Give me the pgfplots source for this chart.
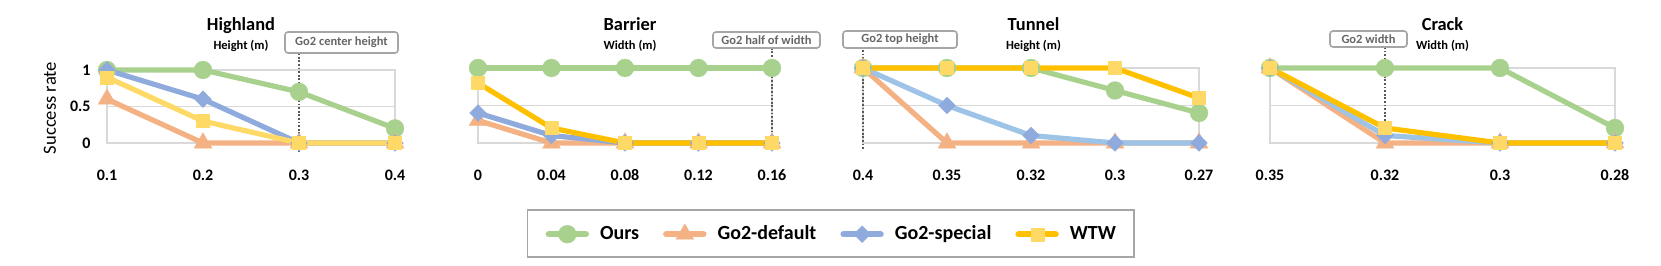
\documentclass[border=0pt]{standalone}
\usepackage{fontspec}
\setmainfont{Carlito}
\usepackage{pgfplots}
\pgfplotsset{compat=1.18}
\definecolor{cg}{HTML}{A9D18E}
\definecolor{co}{HTML}{F4B183}
\definecolor{cb}{HTML}{8FAADC}
\definecolor{clb}{HTML}{9DC3E6}
\definecolor{cy}{HTML}{FFD966}
\definecolor{cgold}{HTML}{FFC000}
\definecolor{gridc}{HTML}{D9D9D9}
\definecolor{nbord}{HTML}{A6A6A6}
\definecolor{ntext}{HTML}{666666}
\definecolor{dotc}{HTML}{595959}
\pgfplotsset{
  base/.style={
    scale only axis, clip=false,
    ymin=0, ymax=1, height=37.5pt,
    axis line style={draw=gridc, line width=0.6pt},
    ytick={0,0.5,1}, yticklabels={},
    ymajorgrids, grid style={draw=gridc, line width=0.6pt},
    major tick length=0pt,
    xticklabel style={font=\fontsize{8}{9}\selectfont\bfseries, anchor=base, yshift=-19pt},
    yticklabel style={font=\fontsize{8}{9}\selectfont\bfseries, anchor=east, inner sep=0pt, xshift=-8pt},
    every axis plot/.append style={line width=2.6pt, line join=round, line cap=round},
  },
  ours/.style={color=cg, mark=*, mark size=4.5pt, mark options={line width=0.1pt}},
  gdef/.style={color=co, mark=triangle*, mark size=5.2pt, mark options={line width=0.1pt}},
  gspec/.style={color=#1, mark=square*, mark size=3pt, mark options={rotate=45, line width=0.1pt, color=cb}},
  gspec/.default=cb,
  wtw/.style={color=#1, mark=square*, mark size=3.25pt, mark options={line width=0.1pt, color=cy}},
  wtw/.default=cgold,
}
\tikzset{
  note/.style={draw=nbord, fill=white, rounded corners=1.5pt, line width=0.8pt, inner sep=0pt,
    text=ntext, font=\fontsize{6.25}{7}\selectfont\bfseries},
  vline/.style={draw=dotc, line width=0.9pt, dash pattern=on 0.9pt off 0.9pt},
  ttl/.style={font=\fontsize{9.2}{10}\selectfont\bfseries, anchor=base},
  sub/.style={font=\fontsize{6.25}{7}\selectfont\bfseries, anchor=base},
}
\begin{document}
\begin{tikzpicture}
\path[use as bounding box] (0,0) rectangle (830.5pt,133pt);
% Highland
\begin{axis}[base, at={(53.5pt,61.5pt)}, anchor=south west, width=144pt, height=36.5pt,
  xmin=0, xmax=3, xtick={0,1,2,3}, xticklabels={0.1,0.2,0.3,0.4},
  yticklabels={0,0.5,1}]
\addplot[ours] coordinates {(0,1) (1,1) (2,0.7) (3,0.2)};
\addplot[gdef] coordinates {(0,0.6) (1,0) (2,0) (3,0)};
\addplot[gspec] coordinates {(0,1) (1,0.6) (2,0) (3,0)};
\addplot[wtw=cy] coordinates {(0,0.9) (1,0.3) (2,0) (3,0)};
\draw[vline] (axis cs:2,1.23) -- (axis cs:2,-0.14);
\end{axis}
% Barrier
\begin{axis}[base, at={(239pt,61.5pt)}, anchor=south west, width=147pt,
  xmin=0, xmax=4, xtick={0,1,2,3,4}, xticklabels={0,0.04,0.08,0.12,0.16},
  legend columns=4,
  legend image code/.code={\draw[#1, line width=3.2pt, mark repeat=2, mark phase=2] plot coordinates {(0pt,0pt) (9.25pt,0pt) (18.5pt,0pt)};},
  legend style={at={(1.2,-1.2067)}, anchor=center, draw=nbord, line width=0.8pt,
    font=\fontsize{10}{12}\selectfont\bfseries, inner xsep=9pt, inner ysep=7pt,
    nodes={inner sep=0pt, anchor=west},
    /tikz/every odd column/.append style={column sep=5.5pt},
    /tikz/every even column/.append style={column sep=12pt}}]
\addplot[ours] coordinates {(0,1) (1,1) (2,1) (3,1) (4,1)};
\addplot[gdef] coordinates {(0,0.3) (1,0) (2,0) (3,0) (4,0)};
\addplot[gspec] coordinates {(0,0.4) (1,0.1) (2,0) (3,0) (4,0)};
\addplot[wtw] coordinates {(0,0.8) (1,0.2) (2,0) (3,0) (4,0)};
\legend{Ours,Go2-default,Go2-special,WTW}
\draw[vline] (axis cs:4,1.27) -- (axis cs:4,-0.12);
\end{axis}
% Tunnel
\begin{axis}[base, at={(431.5pt,61.5pt)}, anchor=south west, width=168pt,
  xmin=0, xmax=4, xtick={0,1,2,3,4}, xticklabels={0.4,0.35,0.32,0.3,0.27}]
\addplot[ours] coordinates {(0,1) (1,1) (2,1) (3,0.7) (4,0.4)};
\addplot[gdef] coordinates {(0,1) (1,0) (2,0) (3,0) (4,0)};
\addplot[gspec=clb] coordinates {(0,1) (1,0.5) (2,0.1) (3,0) (4,0)};
\addplot[wtw] coordinates {(0,1) (1,1) (2,1) (3,1) (4,0.6)};
\draw[vline] (axis cs:0,1.24) -- (axis cs:0,-0.09);
\end{axis}
% Crack
\begin{axis}[base, at={(635pt,61.5pt)}, anchor=south west, width=172.5pt,
  xmin=0, xmax=3, xtick={0,1,2,3}, xticklabels={0.35,0.32,0.3,0.28}]
\addplot[ours] coordinates {(0,1) (1,1) (2,1) (3,0.2)};
\addplot[gdef] coordinates {(0,1) (1,0) (2,0) (3,0)};
\addplot[gspec=clb] coordinates {(0,1) (1,0.1) (2,0) (3,0)};
\addplot[wtw] coordinates {(0,1) (1,0.2) (2,0) (3,0)};
\draw[vline] (axis cs:1,1.28) -- (axis cs:1,-0.03);
\end{axis}
% titles
\node[ttl] at (120.5pt,117.5pt) {Highland};
\node[sub] at (120.5pt,108.3pt) {Height (m)};
\node[ttl] at (315pt,117.5pt) {Barrier};
\node[sub] at (315pt,108.3pt) {Width (m)};
\node[ttl] at (516.75pt,117.5pt) {Tunnel};
\node[sub] at (516.75pt,108.3pt) {Height (m)};
\node[ttl] at (721.25pt,117.5pt) {Crack};
\node[sub] at (721.25pt,108.3pt) {Width (m)};
% notes
\node[note, minimum width=56.5pt, minimum height=10.5pt] at (170.75pt,111.75pt) {Go2 center height};
\node[note, minimum width=53.5pt, minimum height=8pt] at (383.25pt,113pt) {Go2 half of width};
\node[note, minimum width=57pt, minimum height=8.5pt] at (450pt,113.25pt) {Go2 top height};
\node[note, minimum width=38.5pt, minimum height=8pt] at (684.25pt,113.5pt) {Go2 width};
% y label
\node[rotate=90, font=\fontsize{9.3}{10}\selectfont] at (25pt,79pt) {Success rate};
\end{tikzpicture}
\end{document}
